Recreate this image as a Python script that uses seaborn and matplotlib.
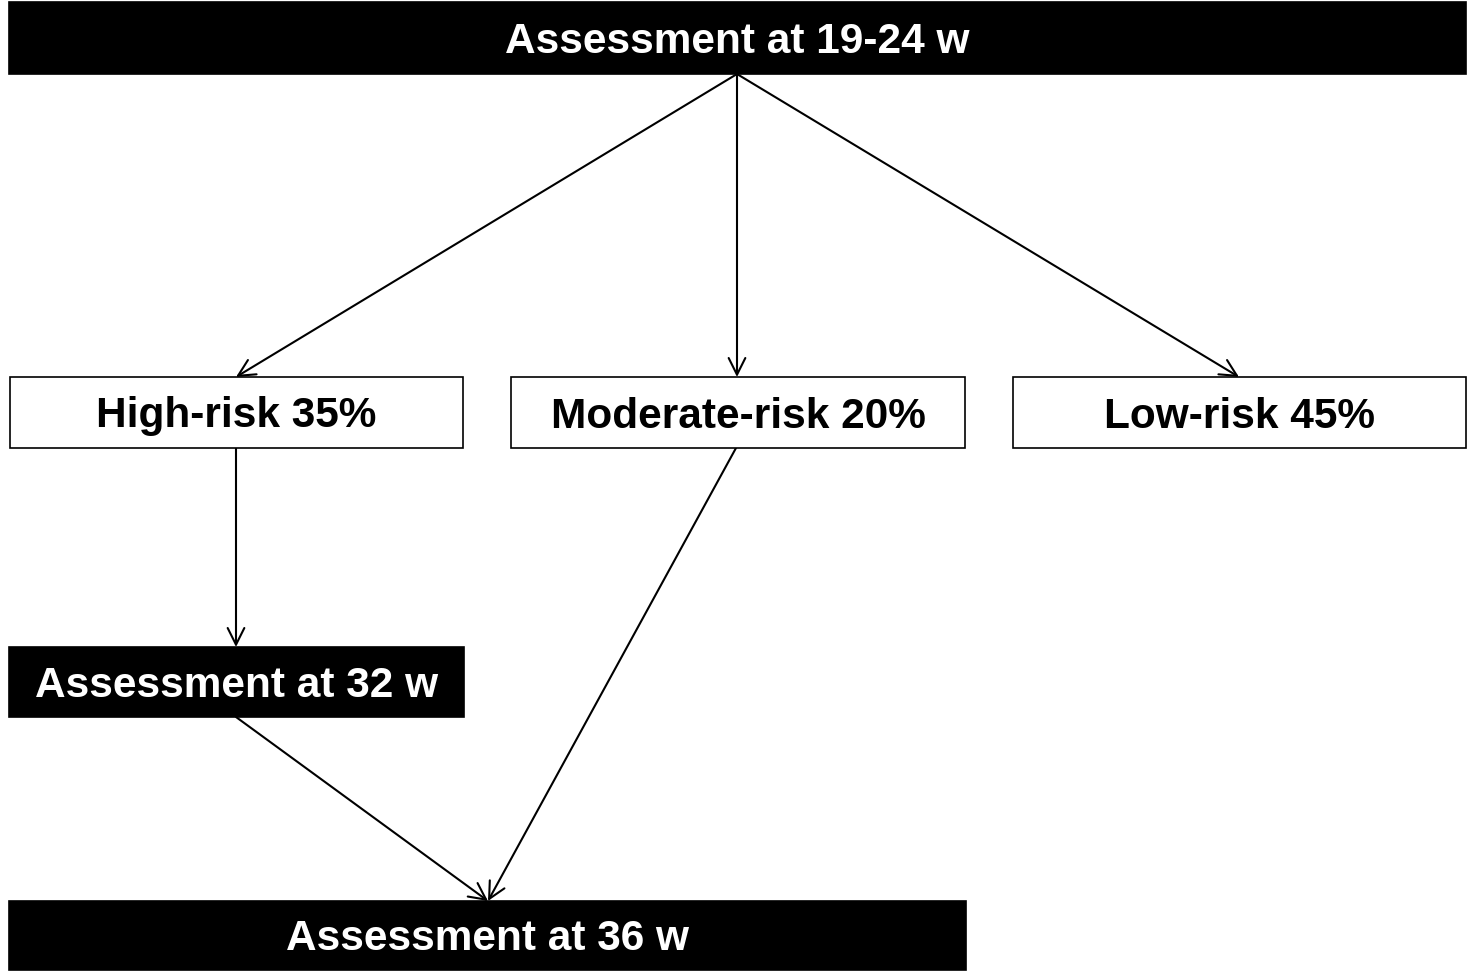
import matplotlib.pyplot as plt
import matplotlib.patches as mpatches
import seaborn as sns

# node labels and fill styles of the flowchart
labels = ["Assessment at 19-24 w", "High-risk 35%", "Moderate-risk 20%",
          "Low-risk 45%", "Assessment at 32 w", "Assessment at 36 w"]
filled = [True, False, False, False, True, True]
# edges between nodes (index pairs)
edges = [(0, 1), (0, 2), (0, 3), (1, 4), (2, 5), (4, 5)]

sns.set_theme(style="white")
plt.rcParams['font.family'] = ['Liberation Sans', 'DejaVu Sans']

# layout in pixel units: (x0, y0, x1, y1)
boxes = [
    (9, 2, 1466, 74),
    (10, 377, 463, 448),
    (511, 377, 965, 448),
    (1013, 377, 1466, 448),
    (9, 647, 464, 717),
    (9, 901, 966, 970),
]
# anchor points for edge start/end
starts = {0: (737, 74), 1: (236, 448), 2: (736, 448), 4: (236, 717)}
ends = {1: (236, 377), 2: (737, 377), 3: (1239, 377), 4: (236, 647), 5: (488, 901)}

fig = plt.figure(figsize=(14.72, 9.73), dpi=100)
ax = fig.add_axes([0, 0, 1, 1])
ax.set_xlim(0, 1472)
ax.set_ylim(973, 0)
ax.axis("off")

for lab, fl, (x0, y0, x1, y1) in zip(labels, filled, boxes):
    ax.add_patch(mpatches.Rectangle((x0, y0), x1 - x0, y1 - y0,
                                    facecolor="black" if fl else "white",
                                    edgecolor="black", linewidth=1.2, zorder=2))
    ax.text((x0 + x1) / 2, (y0 + y1) / 2 + 4, lab, ha="center", va="center",
            color="white" if fl else "black", fontsize=30.5, fontweight="bold",
            zorder=3)

for a, b in edges:
    ax.annotate("", xy=ends[b], xytext=starts[a],
                arrowprops=dict(arrowstyle="->", color="black", lw=1.5,
                                mutation_scale=30, shrinkA=0, shrinkB=0),
                zorder=1)

fig.savefig("out.png", dpi=100)
